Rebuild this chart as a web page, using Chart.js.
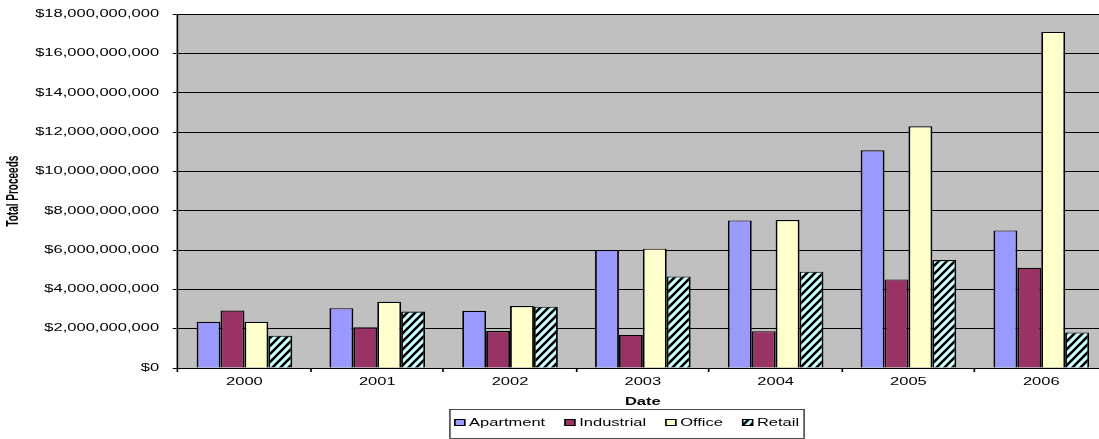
<!DOCTYPE html>
<html>
<head>
<meta charset="utf-8">
<script src="https://cdn.jsdelivr.net/npm/chart.js@4.4.0/dist/chart.umd.min.js"></script>
<style>
html, body { margin: 0; padding: 0; background: #fff; overflow: hidden; }
#c { display: block; }
</style>
</head>
<body>
<canvas id="c" width="690" height="439"></canvas>
<script>
// data
var years = ['2000', '2001', '2002', '2003', '2004', '2005', '2006'];
var apartment  = [2.35e9, 3.04e9, 2.91e9, 6.00e9, 7.51e9, 11.08e9, 7.00e9];
var industrial = [2.92e9, 2.07e9, 1.88e9, 1.68e9, 1.87e9, 4.51e9, 5.10e9];
var office     = [2.35e9, 3.37e9, 3.15e9, 6.07e9, 7.53e9, 12.30e9, 17.10e9];
var retail     = [1.64e9, 2.87e9, 3.12e9, 4.66e9, 4.90e9, 5.49e9, 1.81e9];
var yMax = 18e9, yStep = 2e9;

// the original image is stretched sideways, so draw at logical width and scale x
var SX = 1.65;
var FONT = '"Liberation Sans", Arial, sans-serif';

var cv = document.getElementById('c');
var ctx = cv.getContext('2d');

function makeHatch() {
  var t = document.createElement('canvas');
  t.width = 8; t.height = 8;
  var g = t.getContext('2d');
  g.fillStyle = '#CCFFFF';
  g.fillRect(0, 0, 8, 8);
  g.strokeStyle = '#000';
  g.lineWidth = 2.6;
  g.beginPath();
  g.moveTo(-2, 2); g.lineTo(2, -2);
  g.moveTo(0, 8); g.lineTo(8, 0);
  g.moveTo(6, 10); g.lineTo(10, 6);
  g.stroke();
  var p = ctx.createPattern(t, 'repeat');
  p.setTransform(new DOMMatrix([1 / SX, 0, 0, 1, 0, 0]));
  return p;
}
var hatch = makeHatch();

function money(v) {
  return '$' + Number(v).toLocaleString('en-US');
}

function drawLegend(c) {
  var g = c.ctx;
  var ds = c.data.datasets;
  g.save();
  g.font = '10px ' + FONT;
  g.textBaseline = 'middle';
  g.textAlign = 'left';
  var sw = 6, sh = 7, gap = 2.6, sp = 12, pad = 3;
  var w = pad * 2;
  ds.forEach(function (d, i) {
    w += sw + gap + g.measureText(d.label).width + (i ? sp : 0);
  });
  var cx = (c.chartArea.left + c.chartArea.right) / 2 - 9.6;
  var x = cx - w / 2;
  g.strokeStyle = '#000';
  g.lineWidth = 0.7;
  g.strokeRect(x, 409.5, w, 29);
  x += pad;
  ds.forEach(function (d) {
    g.fillStyle = d.backgroundColor;
    g.fillRect(x, 419, sw, sh);
    g.lineWidth = 1;
    g.strokeRect(x, 419.5, sw, sh - 1);
    x += sw + gap;
    g.fillStyle = '#000';
    g.fillText(d.label, x, 423);
    x += g.measureText(d.label).width + sp;
  });
  g.restore();
}

var stretch = {
  id: 'stretch',
  beforeDraw: function (c) {
    var g = c.ctx;
    g.setTransform(SX, 0, 0, 1, 0, 0);
    var a = c.chartArea;
    g.fillStyle = '#C0C0C0';
    g.fillRect(a.left, a.top, a.right - a.left, a.bottom - a.top);
  },
  afterDraw: function (c) {
    drawLegend(c);
  }
};

var chart = new Chart(ctx, {
  type: 'bar',
  data: {
    labels: years,
    datasets: [
      { label: 'Apartment', data: apartment, backgroundColor: '#9999FF' },
      { label: 'Industrial', data: industrial, backgroundColor: '#993366' },
      { label: 'Office', data: office, backgroundColor: '#FFFFCC' },
      { label: 'Retail', data: retail, backgroundColor: hatch }
    ]
  },
  options: {
    responsive: false,
    animation: false,
    devicePixelRatio: 1,
    layout: { padding: { top: 14, right: 18.7, bottom: 30.3, left: 0 } },
    datasets: {
      bar: { borderColor: '#000', borderWidth: 1.1, categoryPercentage: 0.72, barPercentage: 1 }
    },
    plugins: { legend: { display: false }, tooltip: { enabled: false } },
    scales: {
      x: {
        grid: { drawOnChartArea: false, drawTicks: true, tickLength: 4, color: '#000', offset: true },
        border: { color: '#000' },
        ticks: { font: { family: FONT, size: 10 }, color: '#000', padding: 4, maxRotation: 0 },
        title: { display: true, text: 'Date', color: '#000', font: { family: FONT, size: 10, weight: 'bold' }, padding: { top: 0, bottom: 0 } },
        afterFit: function (s) { s.height = 40.7; }
      },
      y: {
        min: 0,
        max: yMax,
        grid: { color: '#000', tickLength: 3.2, drawTicks: true },
        border: { color: '#000' },
        ticks: { stepSize: yStep, callback: money, font: { family: FONT, size: 10 }, color: '#000', padding: 8.3 },
        title: { display: true, text: 'Total Proceeds', color: '#000', font: { family: FONT, size: 10, weight: 'bold' }, padding: { top: 2, bottom: 0 } },
        afterFit: function (s) { s.width = 107.9; }
      }
    }
  },
  plugins: [stretch]
});

// widen the bitmap and redraw with the horizontal stretch
cv.width = 1099;
cv.style.width = '1099px';
cv.style.height = '439px';
chart.draw();
</script>
</body>
</html>
